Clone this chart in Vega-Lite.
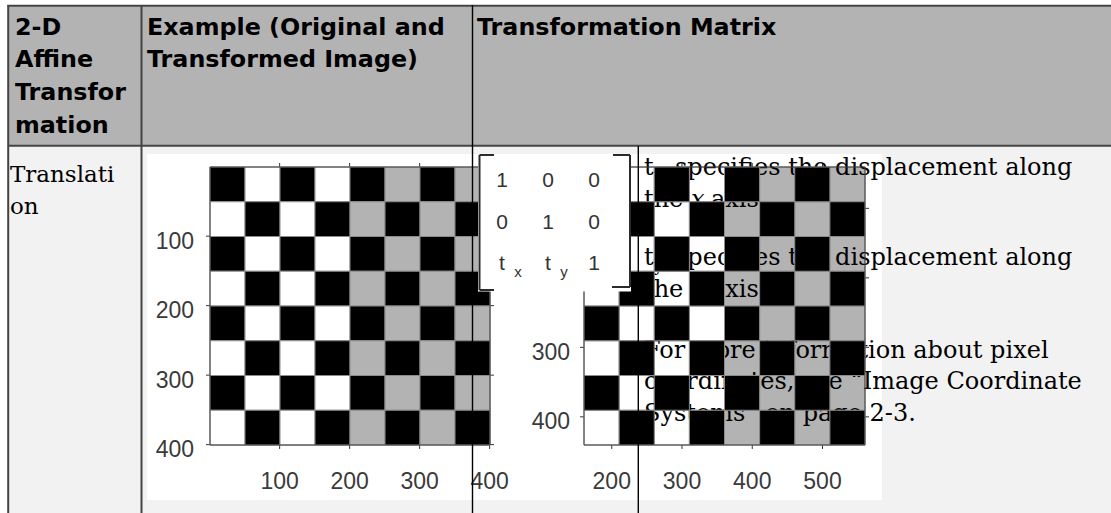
{
  "$schema": "https://vega.github.io/schema/vega-lite/v6.json",
  "width": 1111,
  "height": 513,
  "padding": 0,
  "autosize": {"type": "none"},
  "background": "#ffffff",
  "config": {"view": {"stroke": null}},
  "datasets": {
    "bg": [
      {"part": "body", "x": 8, "x2": 1111, "y": 146, "y2": 513},
      {"part": "header", "x": 8, "x2": 1111, "y": 5, "y2": 146},
      {"part": "panel", "x": 147, "x2": 882, "y": 154, "y2": 500}
    ],
    "board": [
      {"r":0,"c":0,"s":"black"},{"r":0,"c":1,"s":"white"},{"r":0,"c":2,"s":"black"},{"r":0,"c":3,"s":"white"},{"r":0,"c":4,"s":"black"},{"r":0,"c":5,"s":"gray"},{"r":0,"c":6,"s":"black"},{"r":0,"c":7,"s":"gray"},
      {"r":1,"c":0,"s":"white"},{"r":1,"c":1,"s":"black"},{"r":1,"c":2,"s":"white"},{"r":1,"c":3,"s":"black"},{"r":1,"c":4,"s":"gray"},{"r":1,"c":5,"s":"black"},{"r":1,"c":6,"s":"gray"},{"r":1,"c":7,"s":"black"},
      {"r":2,"c":0,"s":"black"},{"r":2,"c":1,"s":"white"},{"r":2,"c":2,"s":"black"},{"r":2,"c":3,"s":"white"},{"r":2,"c":4,"s":"black"},{"r":2,"c":5,"s":"gray"},{"r":2,"c":6,"s":"black"},{"r":2,"c":7,"s":"gray"},
      {"r":3,"c":0,"s":"white"},{"r":3,"c":1,"s":"black"},{"r":3,"c":2,"s":"white"},{"r":3,"c":3,"s":"black"},{"r":3,"c":4,"s":"gray"},{"r":3,"c":5,"s":"black"},{"r":3,"c":6,"s":"gray"},{"r":3,"c":7,"s":"black"},
      {"r":4,"c":0,"s":"black"},{"r":4,"c":1,"s":"white"},{"r":4,"c":2,"s":"black"},{"r":4,"c":3,"s":"white"},{"r":4,"c":4,"s":"black"},{"r":4,"c":5,"s":"gray"},{"r":4,"c":6,"s":"black"},{"r":4,"c":7,"s":"gray"},
      {"r":5,"c":0,"s":"white"},{"r":5,"c":1,"s":"black"},{"r":5,"c":2,"s":"white"},{"r":5,"c":3,"s":"black"},{"r":5,"c":4,"s":"gray"},{"r":5,"c":5,"s":"black"},{"r":5,"c":6,"s":"gray"},{"r":5,"c":7,"s":"black"},
      {"r":6,"c":0,"s":"black"},{"r":6,"c":1,"s":"white"},{"r":6,"c":2,"s":"black"},{"r":6,"c":3,"s":"white"},{"r":6,"c":4,"s":"black"},{"r":6,"c":5,"s":"gray"},{"r":6,"c":6,"s":"black"},{"r":6,"c":7,"s":"gray"},
      {"r":7,"c":0,"s":"white"},{"r":7,"c":1,"s":"black"},{"r":7,"c":2,"s":"white"},{"r":7,"c":3,"s":"black"},{"r":7,"c":4,"s":"gray"},{"r":7,"c":5,"s":"black"},{"r":7,"c":6,"s":"gray"},{"r":7,"c":7,"s":"black"}
    ],
    "ticks": [
      {"img":1,"axis":"x","v":100},{"img":1,"axis":"x","v":200},{"img":1,"axis":"x","v":300},{"img":1,"axis":"x","v":400},
      {"img":1,"axis":"y","v":100},{"img":1,"axis":"y","v":200},{"img":1,"axis":"y","v":300},{"img":1,"axis":"y","v":400},
      {"img":2,"axis":"x","v":200},{"img":2,"axis":"x","v":300},{"img":2,"axis":"x","v":400},{"img":2,"axis":"x","v":500},
      {"img":2,"axis":"y","v":100},{"img":2,"axis":"y","v":200},{"img":2,"axis":"y","v":300},{"img":2,"axis":"y","v":400}
    ],
    "header": [
      {"x": 15, "y": 34.5, "text": "2-D"},
      {"x": 15, "y": 67.3, "text": "Affine"},
      {"x": 15, "y": 100, "text": "Transfor"},
      {"x": 15, "y": 132.5, "text": "mation"},
      {"x": 147, "y": 34.5, "text": "Example (Original and"},
      {"x": 147, "y": 67.3, "text": "Transformed Image)"},
      {"x": 477, "y": 34.5, "text": "Transformation Matrix"}
    ],
    "rowlabel": [
      {"x": 10, "y": 182, "text": "Translati"},
      {"x": 10, "y": 213.5, "text": "on"}
    ],
    "desc": [
      {"x": 644, "y": 175, "text": "t"},
      {"x": 675, "y": 175, "text": "specifies the displacement along"},
      {"x": 644, "y": 206.5, "text": "the"},
      {"x": 711, "y": 206.5, "text": "axis"},
      {"x": 644, "y": 265, "text": "t"},
      {"x": 675, "y": 265, "text": "specifies the displacement along"},
      {"x": 644, "y": 296.5, "text": "the"},
      {"x": 711, "y": 296.5, "text": "axis"},
      {"x": 644, "y": 357.5, "text": "For more information about pixel"},
      {"x": 644, "y": 389, "text": "coordinates, see “Image Coordinate"},
      {"x": 644, "y": 420.5, "text": "Systems” on page 2-3."}
    ],
    "descItalic": [
      {"x": 691, "y": 206.5, "text": "x"},
      {"x": 691, "y": 296.5, "text": "y"}
    ],
    "descSub": [
      {"x": 654, "y": 181, "text": "x"},
      {"x": 654, "y": 271, "text": "y"}
    ],
    "box": [
      {"x": 478, "x2": 631, "y": 154, "y2": 291.5}
    ],
    "brackets": [
      {"x": 479.5, "y": 155, "x2": 479.5, "y2": 290},
      {"x": 479.5, "y": 155, "x2": 494, "y2": 155},
      {"x": 479.5, "y": 290, "x2": 494, "y2": 290},
      {"x": 630, "y": 155, "x2": 630, "y2": 287},
      {"x": 613, "y": 155, "x2": 630, "y2": 155},
      {"x": 612, "y": 287, "x2": 630, "y2": 287}
    ],
    "matrix": [
      {"r":0,"c":0,"t":"1"},{"r":0,"c":1,"t":"0"},{"r":0,"c":2,"t":"0"},
      {"r":1,"c":0,"t":"0"},{"r":1,"c":1,"t":"1"},{"r":1,"c":2,"t":"0"},
      {"r":2,"c":0,"t":"t","sub":"x"},{"r":2,"c":1,"t":"t","sub":"y"},{"r":2,"c":2,"t":"1"}
    ],
    "heavyLines": [
      {"x": 7.5, "y": 5.8, "x2": 1111, "y2": 5.8},
      {"x": 8, "y": 145.8, "x2": 1111, "y2": 145.8},
      {"x": 8.2, "y": 5, "x2": 8.2, "y2": 513},
      {"x": 141.5, "y": 5, "x2": 141.5, "y2": 513}
    ],
    "thinLines": [
      {"x": 472.5, "y": 5, "x2": 472.5, "y2": 513},
      {"x": 638.3, "y": 146, "x2": 638.3, "y2": 513}
    ]
  },
  "resolve": {"scale": {"x": "independent", "y": "independent", "fill": "independent"}},
  "layer": [
    {
      "data": {"name": "bg"},
      "mark": {"type": "rect"},
      "encoding": {
        "x": {"field": "x", "type": "quantitative", "scale": {"domain": [0, 1111], "range": [0, 1111], "nice": false, "zero": false}, "axis": null},
        "x2": {"field": "x2"},
        "y": {"field": "y", "type": "quantitative", "scale": {"domain": [0, 513], "range": [0, 513], "nice": false, "zero": false}, "axis": null},
        "y2": {"field": "y2"},
        "fill": {"field": "part", "type": "nominal", "scale": {"domain": ["body", "header", "panel"], "range": ["#f2f2f2", "#b3b3b3", "#ffffff"]}, "legend": null}
      }
    },
    {
      "data": {"name": "ticks"},
      "transform": [{"filter": "datum.img == 2 && datum.axis == 'x'"}],
      "mark": {"type": "rule", "color": "#333333", "strokeWidth": 1},
      "encoding": {
        "x": {"field": "v", "type": "quantitative", "scale": {"domain": [160.5, 560.5], "range": [584, 865], "nice": false, "zero": false}, "axis": null},
        "y": {"datum": 34.75, "type": "quantitative", "scale": {"domain": [40.5, 440.5], "range": [167, 445], "nice": false, "zero": false}, "axis": null},
        "y2": {"datum": 446.25}
      }
    },
    {
      "data": {"name": "ticks"},
      "transform": [{"filter": "datum.img == 2 && datum.axis == 'y'"}],
      "mark": {"type": "rule", "color": "#333333", "strokeWidth": 1},
      "encoding": {
        "y": {"field": "v", "type": "quantitative", "scale": {"domain": [40.5, 440.5], "range": [167, 445], "nice": false, "zero": false}, "axis": null},
        "x": {"datum": 154.8, "type": "quantitative", "scale": {"domain": [160.5, 560.5], "range": [584, 865], "nice": false, "zero": false}, "axis": null},
        "x2": {"datum": 566.2}
      }
    },
    {
      "data": {"name": "board"},
      "transform": [{"filter": "datum.s != 'black'"}],
      "mark": {"type": "rect", "stroke": "#8c8c8c", "strokeWidth": 1},
      "encoding": {
        "x": {"field": "c", "type": "ordinal", "scale": {"type": "band", "domain": [0,1,2,3,4,5,6,7], "range": [584, 865], "paddingInner": 0, "paddingOuter": 0}, "axis": null},
        "y": {"field": "r", "type": "ordinal", "scale": {"type": "band", "domain": [0,1,2,3,4,5,6,7], "range": [167, 445], "paddingInner": 0, "paddingOuter": 0}, "axis": null},
        "fill": {"field": "s", "type": "nominal", "scale": {"domain": ["black", "white", "gray"], "range": ["#000000", "#ffffff", "#b3b3b3"]}, "legend": null}
      }
    },
    {
      "data": {"name": "ticks"},
      "transform": [{"filter": "datum.img == 2 && datum.axis == 'x'"}],
      "mark": {"type": "text", "font": "Liberation Sans", "fontSize": 23, "color": "#3a3a3a", "align": "center", "baseline": "alphabetic", "dy": 44},
      "encoding": {
        "x": {"field": "v", "type": "quantitative", "scale": {"domain": [160.5, 560.5], "range": [584, 865], "nice": false, "zero": false}, "axis": null},
        "y": {"datum": 440.5, "type": "quantitative", "scale": {"domain": [40.5, 440.5], "range": [167, 445], "nice": false, "zero": false}, "axis": null},
        "text": {"field": "v", "type": "quantitative", "format": "d"}
      }
    },
    {
      "data": {"name": "ticks"},
      "transform": [{"filter": "datum.img == 2 && datum.axis == 'y' && datum.v >= 300"}],
      "mark": {"type": "text", "font": "Liberation Sans", "fontSize": 23, "color": "#3a3a3a", "align": "right", "baseline": "alphabetic", "dx": -14, "dy": 12.5},
      "encoding": {
        "y": {"field": "v", "type": "quantitative", "scale": {"domain": [40.5, 440.5], "range": [167, 445], "nice": false, "zero": false}, "axis": null},
        "x": {"datum": 160.5, "type": "quantitative", "scale": {"domain": [160.5, 560.5], "range": [584, 865], "nice": false, "zero": false}, "axis": null},
        "text": {"field": "v", "type": "quantitative", "format": "d"}
      }
    },
    {
      "data": {"name": "ticks"},
      "transform": [{"filter": "datum.img == 1 && datum.axis == 'x'"}],
      "mark": {"type": "rule", "color": "#333333", "strokeWidth": 1},
      "encoding": {
        "x": {"field": "v", "type": "quantitative", "scale": {"domain": [0.5, 400.5], "range": [210, 490], "nice": false, "zero": false}, "axis": null},
        "y": {"datum": -5.25, "type": "quantitative", "scale": {"domain": [0.5, 400.5], "range": [167, 445], "nice": false, "zero": false}, "axis": null},
        "y2": {"datum": 406.25}
      }
    },
    {
      "data": {"name": "ticks"},
      "transform": [{"filter": "datum.img == 1 && datum.axis == 'y'"}],
      "mark": {"type": "rule", "color": "#333333", "strokeWidth": 1},
      "encoding": {
        "y": {"field": "v", "type": "quantitative", "scale": {"domain": [0.5, 400.5], "range": [167, 445], "nice": false, "zero": false}, "axis": null},
        "x": {"datum": -5.2, "type": "quantitative", "scale": {"domain": [0.5, 400.5], "range": [210, 490], "nice": false, "zero": false}, "axis": null},
        "x2": {"datum": 406.2}
      }
    },
    {
      "data": {"name": "board"},
      "mark": {"type": "rect", "stroke": "#8c8c8c", "strokeWidth": 1},
      "encoding": {
        "x": {"field": "c", "type": "ordinal", "scale": {"type": "band", "domain": [0,1,2,3,4,5,6,7], "range": [210, 490], "paddingInner": 0, "paddingOuter": 0}, "axis": null},
        "y": {"field": "r", "type": "ordinal", "scale": {"type": "band", "domain": [0,1,2,3,4,5,6,7], "range": [167, 445], "paddingInner": 0, "paddingOuter": 0}, "axis": null},
        "fill": {"field": "s", "type": "nominal", "scale": {"domain": ["black", "white", "gray"], "range": ["#000000", "#ffffff", "#b3b3b3"]}, "legend": null}
      }
    },
    {
      "data": {"values": [{}]},
      "mark": {"type": "rect", "filled": false, "color": "#404040", "strokeWidth": 1},
      "encoding": {
        "x": {"datum": 0.5, "type": "quantitative", "scale": {"domain": [0.5, 400.5], "range": [210, 490], "nice": false, "zero": false}, "axis": null},
        "x2": {"datum": 400.5},
        "y": {"datum": 0.5, "type": "quantitative", "scale": {"domain": [0.5, 400.5], "range": [167, 445], "nice": false, "zero": false}, "axis": null},
        "y2": {"datum": 400.5}
      }
    },
    {
      "data": {"name": "ticks"},
      "transform": [{"filter": "datum.img == 1 && datum.axis == 'x'"}],
      "mark": {"type": "text", "font": "Liberation Sans", "fontSize": 23, "color": "#3a3a3a", "align": "center", "baseline": "alphabetic", "dy": 44},
      "encoding": {
        "x": {"field": "v", "type": "quantitative", "scale": {"domain": [0.5, 400.5], "range": [210, 490], "nice": false, "zero": false}, "axis": null},
        "y": {"datum": 400.5, "type": "quantitative", "scale": {"domain": [0.5, 400.5], "range": [167, 445], "nice": false, "zero": false}, "axis": null},
        "text": {"field": "v", "type": "quantitative", "format": "d"}
      }
    },
    {
      "data": {"name": "ticks"},
      "transform": [{"filter": "datum.img == 1 && datum.axis == 'y'"}],
      "mark": {"type": "text", "font": "Liberation Sans", "fontSize": 23, "color": "#3a3a3a", "align": "right", "baseline": "alphabetic", "dx": -16, "dy": 12.5},
      "encoding": {
        "y": {"field": "v", "type": "quantitative", "scale": {"domain": [0.5, 400.5], "range": [167, 445], "nice": false, "zero": false}, "axis": null},
        "x": {"datum": 0.5, "type": "quantitative", "scale": {"domain": [0.5, 400.5], "range": [210, 490], "nice": false, "zero": false}, "axis": null},
        "text": {"field": "v", "type": "quantitative", "format": "d"}
      }
    },
    {
      "data": {"name": "desc"},
      "mark": {"type": "text", "font": "DejaVu Serif", "fontSize": 24, "color": "#000000", "align": "left", "baseline": "alphabetic"},
      "encoding": {
        "x": {"field": "x", "type": "quantitative", "scale": {"domain": [0, 1111], "range": [0, 1111], "nice": false, "zero": false}, "axis": null},
        "y": {"field": "y", "type": "quantitative", "scale": {"domain": [0, 513], "range": [0, 513], "nice": false, "zero": false}, "axis": null},
        "text": {"field": "text"}
      }
    },
    {
      "data": {"name": "descItalic"},
      "mark": {"type": "text", "font": "DejaVu Serif", "fontStyle": "italic", "fontSize": 24, "color": "#000000", "align": "left", "baseline": "alphabetic"},
      "encoding": {
        "x": {"field": "x", "type": "quantitative", "scale": {"domain": [0, 1111], "range": [0, 1111], "nice": false, "zero": false}, "axis": null},
        "y": {"field": "y", "type": "quantitative", "scale": {"domain": [0, 513], "range": [0, 513], "nice": false, "zero": false}, "axis": null},
        "text": {"field": "text"}
      }
    },
    {
      "data": {"name": "descSub"},
      "mark": {"type": "text", "font": "DejaVu Serif", "fontSize": 16, "color": "#000000", "align": "left", "baseline": "alphabetic"},
      "encoding": {
        "x": {"field": "x", "type": "quantitative", "scale": {"domain": [0, 1111], "range": [0, 1111], "nice": false, "zero": false}, "axis": null},
        "y": {"field": "y", "type": "quantitative", "scale": {"domain": [0, 513], "range": [0, 513], "nice": false, "zero": false}, "axis": null},
        "text": {"field": "text"}
      }
    },
    {
      "data": {"name": "board"},
      "transform": [{"filter": "datum.s == 'black'"}],
      "mark": {"type": "rect", "stroke": "#8c8c8c", "strokeWidth": 1},
      "encoding": {
        "x": {"field": "c", "type": "ordinal", "scale": {"type": "band", "domain": [0,1,2,3,4,5,6,7], "range": [584, 865], "paddingInner": 0, "paddingOuter": 0}, "axis": null},
        "y": {"field": "r", "type": "ordinal", "scale": {"type": "band", "domain": [0,1,2,3,4,5,6,7], "range": [167, 445], "paddingInner": 0, "paddingOuter": 0}, "axis": null},
        "fill": {"field": "s", "type": "nominal", "scale": {"domain": ["black", "white", "gray"], "range": ["#000000", "#ffffff", "#b3b3b3"]}, "legend": null}
      }
    },
    {
      "data": {"values": [{}]},
      "mark": {"type": "rect", "filled": false, "color": "#404040", "strokeWidth": 1},
      "encoding": {
        "x": {"datum": 160.5, "type": "quantitative", "scale": {"domain": [160.5, 560.5], "range": [584, 865], "nice": false, "zero": false}, "axis": null},
        "x2": {"datum": 560.5},
        "y": {"datum": 40.5, "type": "quantitative", "scale": {"domain": [40.5, 440.5], "range": [167, 445], "nice": false, "zero": false}, "axis": null},
        "y2": {"datum": 440.5}
      }
    },
    {
      "data": {"name": "box"},
      "mark": {"type": "rect", "color": "#ffffff"},
      "encoding": {
        "x": {"field": "x", "type": "quantitative", "scale": {"domain": [0, 1111], "range": [0, 1111], "nice": false, "zero": false}, "axis": null},
        "x2": {"field": "x2"},
        "y": {"field": "y", "type": "quantitative", "scale": {"domain": [0, 513], "range": [0, 513], "nice": false, "zero": false}, "axis": null},
        "y2": {"field": "y2"}
      }
    },
    {
      "data": {"name": "brackets"},
      "mark": {"type": "rule", "color": "#2b2b2b", "strokeWidth": 2},
      "encoding": {
        "x": {"field": "x", "type": "quantitative", "scale": {"domain": [0, 1111], "range": [0, 1111], "nice": false, "zero": false}, "axis": null},
        "x2": {"field": "x2"},
        "y": {"field": "y", "type": "quantitative", "scale": {"domain": [0, 513], "range": [0, 513], "nice": false, "zero": false}, "axis": null},
        "y2": {"field": "y2"}
      }
    },
    {
      "data": {"name": "matrix"},
      "mark": {"type": "text", "font": "Liberation Sans", "fontSize": 21, "color": "#333333", "align": "center", "baseline": "alphabetic"},
      "encoding": {
        "x": {"field": "c", "type": "ordinal", "scale": {"type": "point", "domain": [0, 1, 2], "range": [502, 594], "padding": 0}, "axis": null},
        "y": {"field": "r", "type": "ordinal", "scale": {"type": "point", "domain": [0, 1, 2], "range": [187, 270], "padding": 0}, "axis": null},
        "text": {"field": "t"}
      }
    },
    {
      "data": {"name": "matrix"},
      "transform": [{"filter": "isValid(datum.sub)"}],
      "mark": {"type": "text", "font": "Liberation Sans", "fontSize": 15, "color": "#333333", "align": "center", "baseline": "alphabetic", "dx": 16, "dy": 7},
      "encoding": {
        "x": {"field": "c", "type": "ordinal", "scale": {"type": "point", "domain": [0, 1, 2], "range": [502, 594], "padding": 0}, "axis": null},
        "y": {"field": "r", "type": "ordinal", "scale": {"type": "point", "domain": [0, 1, 2], "range": [187, 270], "padding": 0}, "axis": null},
        "text": {"field": "sub"}
      }
    },
    {
      "data": {"name": "heavyLines"},
      "mark": {"type": "rule", "color": "#444444", "strokeWidth": 2},
      "encoding": {
        "x": {"field": "x", "type": "quantitative", "scale": {"domain": [0, 1111], "range": [0, 1111], "nice": false, "zero": false}, "axis": null},
        "x2": {"field": "x2"},
        "y": {"field": "y", "type": "quantitative", "scale": {"domain": [0, 513], "range": [0, 513], "nice": false, "zero": false}, "axis": null},
        "y2": {"field": "y2"}
      }
    },
    {
      "data": {"name": "thinLines"},
      "mark": {"type": "rule", "color": "#000000", "strokeWidth": 1.4},
      "encoding": {
        "x": {"field": "x", "type": "quantitative", "scale": {"domain": [0, 1111], "range": [0, 1111], "nice": false, "zero": false}, "axis": null},
        "x2": {"field": "x2"},
        "y": {"field": "y", "type": "quantitative", "scale": {"domain": [0, 513], "range": [0, 513], "nice": false, "zero": false}, "axis": null},
        "y2": {"field": "y2"}
      }
    },
    {
      "data": {"name": "header"},
      "mark": {"type": "text", "font": "DejaVu Sans", "fontWeight": "bold", "fontSize": 23.8, "color": "#000000", "align": "left", "baseline": "alphabetic"},
      "encoding": {
        "x": {"field": "x", "type": "quantitative", "scale": {"domain": [0, 1111], "range": [0, 1111], "nice": false, "zero": false}, "axis": null},
        "y": {"field": "y", "type": "quantitative", "scale": {"domain": [0, 513], "range": [0, 513], "nice": false, "zero": false}, "axis": null},
        "text": {"field": "text"}
      }
    },
    {
      "data": {"name": "rowlabel"},
      "mark": {"type": "text", "font": "DejaVu Serif", "fontSize": 23, "color": "#000000", "align": "left", "baseline": "alphabetic"},
      "encoding": {
        "x": {"field": "x", "type": "quantitative", "scale": {"domain": [0, 1111], "range": [0, 1111], "nice": false, "zero": false}, "axis": null},
        "y": {"field": "y", "type": "quantitative", "scale": {"domain": [0, 513], "range": [0, 513], "nice": false, "zero": false}, "axis": null},
        "text": {"field": "text"}
      }
    }
  ]
}
